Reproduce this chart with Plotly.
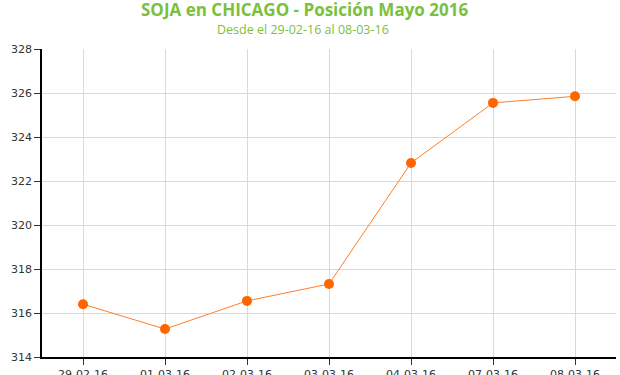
import plotly.graph_objects as go

fechas = ["29-02-16", "01-03-16", "02-03-16", "03-03-16", "04-03-16", "07-03-16", "08-03-16"]
precios = [316.4, 315.27, 316.55, 317.32, 322.82, 325.55, 325.85]
y_ticks = [314, 316, 318, 320, 322, 324, 326, 328]

fig = go.Figure()
fig.add_trace(go.Scatter(
    x=fechas, y=precios, mode="lines+markers",
    line=dict(color="#ff7f2a", width=1),
    marker=dict(color="#ff6600", size=10),
    showlegend=False,
))

green = "#7cbf3c"
fig.add_annotation(text="<b>SOJA en CHICAGO - Posición Mayo 2016</b>", xref="paper", yref="paper",
                   x=0.5, y=1, yshift=26, xshift=-25, xanchor="center", yanchor="bottom", showarrow=False,
                   font=dict(family="Open Sans, Liberation Sans, sans-serif", size=17, color=green))
fig.add_annotation(text="Desde el 29-02-16 al 08-03-16", xref="paper", yref="paper",
                   x=0.5, y=1, yshift=9, xshift=-26, xanchor="center", yanchor="bottom", showarrow=False,
                   font=dict(family="Open Sans, Liberation Sans, sans-serif", size=12.5, color=green))

fig.update_layout(
    width=620, height=375,
    margin=dict(l=42, r=4, t=49, b=18, autoexpand=False),
    paper_bgcolor="white", plot_bgcolor="white",
    xaxis=dict(
        type="category", range=[-0.5, 6.5], automargin=False,
        showline=True, linecolor="black", linewidth=1.5,
        ticks="outside", ticklen=6, tickcolor="#333",
        showgrid=True, gridcolor="#d9d9d9", gridwidth=1,
        tickfont=dict(family="DejaVu Sans, Verdana, sans-serif", size=11, color="#333"),
    ),
    yaxis=dict(
        range=[314, 328], tickvals=y_ticks, automargin=False,
        showline=True, linecolor="black", linewidth=1.5,
        ticks="outside", ticklen=6, tickcolor="#333",
        showgrid=True, gridcolor="#d9d9d9", gridwidth=1,
        zeroline=False,
        tickfont=dict(family="DejaVu Sans, Verdana, sans-serif", size=11, color="#333"),
    ),
)

fig.write_html("out.html", config={"displayModeBar": False},
               post_script="document.body.style.margin='0';")
